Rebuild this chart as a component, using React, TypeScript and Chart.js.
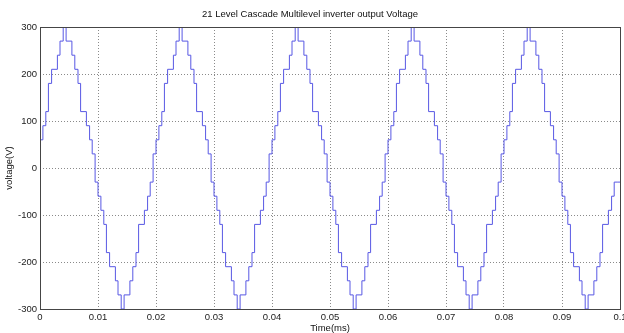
import React, { useEffect, useRef } from 'react';
import { Chart, registerables } from 'chart.js';

Chart.register(...registerables);

// One period of the staircase (segment start time in s, level in V)
const periodTimes = [
  0, 0.0005, 0.001, 0.00145, 0.002, 0.003, 0.00345, 0.004, 0.0045,
  0.0055, 0.006, 0.00655, 0.007, 0.008, 0.00855, 0.009, 0.0095,
  0.01, 0.0105, 0.011, 0.01145, 0.012, 0.013, 0.01345, 0.014, 0.0145,
  0.0155, 0.016, 0.01655, 0.017, 0.018, 0.01855, 0.019, 0.0195,
];
const periodLevels = [
  30, 60, 90, 120, 180, 210, 240, 270, 300,
  270, 240, 210, 180, 120, 90, 60, 30,
  -30, -60, -90, -120, -180, -210, -240, -270, -300,
  -270, -240, -210, -180, -120, -90, -60, -30,
];
// Start of each of the five identical cycles shown
const cycleStarts = [0, 0.02, 0.04, 0.06, 0.08];
const endTime = 0.1;
const endLevel = -30;

const xTickLabels = ['0', '0.01', '0.02', '0.03', '0.04', '0.05', '0.06', '0.07', '0.08', '0.09', '0.1'];
const yTickLabels = ['-300', '-200', '-100', '0', '100', '200', '300'];

const titleText = '21 Level Cascade Multilevel inverter output Voltage';
const xTitle = 'Time(ms)';
const yTitle = 'voltage(V)';

const FONT = '"Liberation Sans", Arial, sans-serif';

export default function App() {
  const canvasRef = useRef<HTMLCanvasElement | null>(null);

  useEffect(() => {
    document.body.style.margin = '0';
    const canvas = canvasRef.current;
    if (!canvas) return;

    const points: { x: number; y: number }[] = [];
    cycleStarts.forEach((c) => {
      periodTimes.forEach((t, i) => {
        points.push({ x: c + t, y: periodLevels[i] });
      });
    });
    points.push({ x: endTime, y: endLevel });

    const boxPlugin = {
      id: 'box',
      afterDraw(chart: any) {
        const { ctx, chartArea } = chart;
        ctx.save();
        ctx.strokeStyle = '#454545';
        ctx.lineWidth = 1;
        const l = Math.round(chartArea.left) + 0.5;
        const t = Math.round(chartArea.top) + 0.5;
        const r = Math.round(chartArea.right) + 0.5;
        const b = Math.round(chartArea.bottom) + 0.5;
        ctx.strokeRect(l, t, r - l, b - t);
        ctx.restore();
      },
    };

    const chart = new Chart(canvas, {
      type: 'line',
      data: {
        datasets: [
          {
            data: points,
            stepped: 'after',
            borderColor: 'rgb(88,88,228)',
            borderWidth: 1,
            pointRadius: 0,
            fill: false,
          },
        ],
      },
      options: {
        animation: false,
        responsive: false,
        maintainAspectRatio: false,
        parsing: false,
        layout: { padding: { left: 0, right: 4, top: 0, bottom: 0 } },
        plugins: {
          legend: { display: false },
          tooltip: { enabled: false },
          title: {
            display: true,
            text: titleText,
            color: '#111',
            font: { family: FONT, size: 9.5, weight: 'normal', lineHeight: 1.2 },
            padding: { top: 9, bottom: 6.6 },
          },
        },
        scales: {
          x: {
            type: 'linear',
            min: 0,
            max: 0.1,
            border: { display: false, dash: [1, 2] },
            grid: {
              color: '#8a8a8a',
              lineWidth: 1,
              drawTicks: false,
            },
            ticks: {
              stepSize: 0.01,
              autoSkip: false,
              maxRotation: 0,
              padding: 3,
              color: '#222',
              font: { family: FONT, size: 9.5 },
              callback: (_v: any, i: number) => xTickLabels[i],
            },
            title: {
              display: true,
              text: xTitle,
              color: '#111',
              font: { family: FONT, size: 9.5, lineHeight: 1.0 },
              padding: { top: 0, bottom: 0 },
            },
            afterFit(scale: any) {
              scale.height = 24;
              scale.paddingLeft = 0;
              scale.paddingRight = 0;
            },
          },
          y: {
            type: 'linear',
            min: -300,
            max: 300,
            border: { display: false, dash: [1, 2] },
            grid: {
              color: '#8a8a8a',
              lineWidth: 1,
              drawTicks: false,
            },
            ticks: {
              stepSize: 100,
              autoSkip: false,
              padding: 3,
              color: '#222',
              font: { family: FONT, size: 9.5 },
              callback: (_v: any, i: number) => yTickLabels[i],
            },
            title: {
              display: true,
              text: yTitle,
              color: '#111',
              font: { family: FONT, size: 9.5 },
              padding: { top: 4, bottom: 0 },
            },
            afterFit(scale: any) {
              scale.width = 40;
              scale.paddingTop = 0;
              scale.paddingBottom = 0;
            },
          },
        },
      },
      plugins: [boxPlugin],
    } as any);

    return () => chart.destroy();
  }, []);

  return <canvas ref={canvasRef} width={624} height={333} style={{ display: 'block', width: 624, height: 333 }} />;
}
